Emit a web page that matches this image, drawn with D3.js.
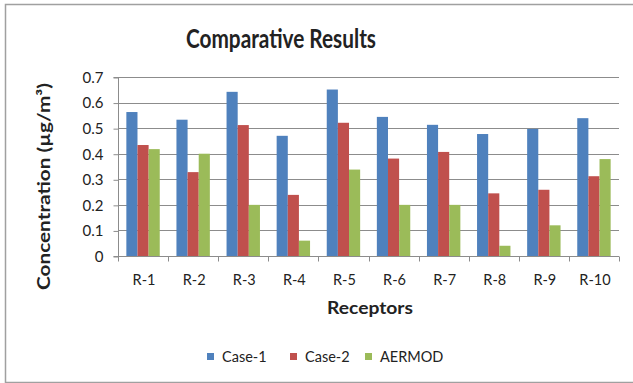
<!DOCTYPE html>
<html>
<head>
<meta charset="utf-8">
<script src="https://cdnjs.cloudflare.com/ajax/libs/d3/7.8.5/d3.min.js"></script>
<style>
  html, body { margin: 0; padding: 0; background: #fff; }
  svg { display: block; }
  text { font-family: Lato, "Open Sans", sans-serif; fill: #222; }
</style>
</head>
<body>
<svg id="chart" width="633" height="383"></svg>
<script>
// Receptor categories and concentration series (µg/m³)
const receptors = ["R-1", "R-2", "R-3", "R-4", "R-5", "R-6", "R-7", "R-8", "R-9", "R-10"];
const seriesNames = ["Case-1", "Case-2", "AERMOD"];
const case1 = [0.563, 0.533, 0.642, 0.470, 0.651, 0.544, 0.513, 0.477, 0.497, 0.539];
const case2 = [0.434, 0.328, 0.512, 0.239, 0.521, 0.381, 0.407, 0.245, 0.259, 0.312];
const aermod = [0.418, 0.400, 0.200, 0.060, 0.338, 0.200, 0.200, 0.040, 0.120, 0.379];
const yTicks = [0, 0.1, 0.2, 0.3, 0.4, 0.5, 0.6, 0.7];
const colors = ["#4F81BD", "#C0504D", "#9BBB59"];

const seriesValues = [case1, case2, aermod];
const svg = d3.select("#chart");

// chart frame
svg.append("path")
  .attr("d", "M633,4.5 H5.5 V382.5 H633")
  .attr("fill", "none").attr("stroke", "#a0a0a0").attr("stroke-width", 1.5);

const plot = { left: 118, right: 619, top: 77, bottom: 256 };

const x = d3.scaleBand().domain(receptors).range([plot.left, plot.right]).padding(0);
// each group: 3 bars plus a gap of 1.5 bar widths split across both sides
const inner = d3.scaleBand().domain(seriesNames)
  .range([0, x.bandwidth()]).paddingInner(0).paddingOuter(0.75);
const y = d3.scaleLinear().domain([0, 0.7]).range([plot.bottom, plot.top]);

// gridlines
svg.append("g").selectAll("line").data(yTicks.filter(d => d > 0)).join("line")
  .attr("x1", plot.left).attr("x2", plot.right)
  .attr("y1", d => Math.round(y(d)) + 0.5).attr("y2", d => Math.round(y(d)) + 0.5)
  .attr("stroke", "#8c8c8c").attr("stroke-width", 1);

// bars
seriesNames.forEach((name, si) => {
  svg.append("g").selectAll("rect").data(receptors).join("rect")
    .attr("x", d => x(d) + inner(name))
    .attr("width", inner.bandwidth())
    .attr("y", (d, i) => y(seriesValues[si][i]))
    .attr("height", (d, i) => plot.bottom - y(seriesValues[si][i]))
    .attr("fill", colors[si]);
});

// y axis
const yAxis = d3.axisLeft(y).tickValues(yTicks).tickSize(5).tickPadding(10)
  .tickFormat(d => d === 0 ? "0" : d3.format(".1f")(d));
const gy = svg.append("g").attr("transform", `translate(${plot.left + 0.5},0.5)`).call(yAxis);
gy.select(".domain").attr("stroke", "#8c8c8c").attr("d", `M-5,${plot.top}H0V${plot.bottom}H-5`);
gy.selectAll(".tick line").attr("stroke", "#8c8c8c");
gy.selectAll(".tick text").attr("font-size", 15).attr("font-family", "Lato, sans-serif").attr("fill", "#222");

// x axis with ticks at category boundaries
const gx = svg.append("g").attr("transform", `translate(0,${plot.bottom + 0.5})`);
gx.append("line").attr("x1", plot.left).attr("x2", plot.right).attr("stroke", "#8c8c8c");
gx.selectAll("line.tk").data(receptors.map(r => x(r)).concat([plot.right])).join("line")
  .attr("class", "tk")
  .attr("x1", d => Math.round(d) + 0.5).attr("x2", d => Math.round(d) + 0.5)
  .attr("y1", 0).attr("y2", 5).attr("stroke", "#8c8c8c");
gx.selectAll("text").data(receptors).join("text")
  .attr("x", d => x(d) + x.bandwidth() / 2 + 1).attr("y", 28)
  .attr("text-anchor", "middle").attr("font-size", 14.5).text(d => d);

// titles
svg.append("text").attr("x", 186).attr("y", 48)
  .attr("font-size", 26).attr("font-weight", "bold")
  .attr("textLength", 190).attr("lengthAdjust", "spacingAndGlyphs")
  .text("Comparative Results");
svg.append("text").attr("x", 327).attr("y", 314)
  .attr("font-size", 16.5).attr("font-weight", "bold")
  .attr("textLength", 86).attr("lengthAdjust", "spacingAndGlyphs")
  .text("Receptors");
svg.append("text").attr("transform", "translate(50,290) rotate(-90)")
  .attr("font-size", 16.5).attr("font-weight", "bold")
  .attr("textLength", 207).attr("lengthAdjust", "spacingAndGlyphs")
  .text("Concentration (µg/m³)");

// legend
const legendX = [207, 290, 365];
const lg = svg.append("g");
seriesNames.forEach((name, i) => {
  lg.append("rect").attr("x", legendX[i]).attr("y", 353).attr("width", 7).attr("height", 7).attr("fill", colors[i]);
  lg.append("text").attr("x", legendX[i] + 15).attr("y", 361.5).attr("font-size", 14.5).text(name);
});
</script>
</body>
</html>
